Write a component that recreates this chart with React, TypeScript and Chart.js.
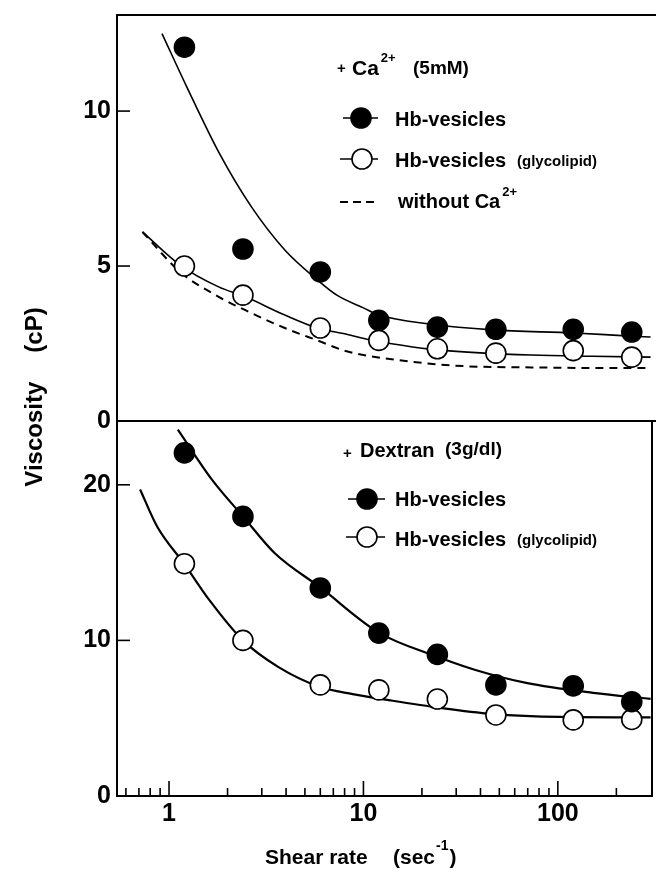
import React, { useEffect, useRef } from "react";
import { Chart, registerables } from "chart.js";

Chart.register(...registerables);

const FONT = '"Liberation Sans", Arial, Helvetica, sans-serif';

// measured shear rates (sec^-1)
const shearRate = [1.2, 2.4, 6, 12, 24, 48, 120, 240];

// + Ca2+ (5mM) panel
const caHbVesicles = [12.06, 5.55, 4.81, 3.25, 3.03, 2.96, 2.96, 2.87];
const caHbGlycolipid = [5.0, 4.06, 3.0, 2.6, 2.33, 2.19, 2.27, 2.06];
const caHbFitX = [0.92, 1.23, 1.81, 2.66, 3.94, 5.8, 7.3, 10, 12, 22, 46, 121, 236, 300];
const caHbFitY = [12.5, 10.8, 8.65, 6.9, 5.52, 4.55, 4.06, 3.65, 3.42, 3.13, 2.94, 2.84, 2.74, 2.71];
const caGlyFitX = [0.73, 1.14, 1.81, 2.42, 3.94, 5.8, 8.2, 10.7, 13.7, 22, 42, 73, 150, 300];
const caGlyFitY = [6.1, 5.03, 4.32, 4.03, 3.42, 3.0, 2.8, 2.62, 2.5, 2.32, 2.19, 2.13, 2.09, 2.06];
const noCaFitX = [0.73, 1.14, 1.81, 2.66, 3.94, 5.8, 8.2, 14.9, 33, 73, 150, 300];
const noCaFitY = [6.1, 4.81, 4.0, 3.48, 3.0, 2.6, 2.25, 1.97, 1.77, 1.73, 1.71, 1.71];

// + Dextran (3g/dl) panel
const dexHbVesicles = [22.05, 17.97, 13.37, 10.47, 9.1, 7.14, 7.08, 6.06];
const dexHbGlycolipid = [14.93, 10.0, 7.14, 6.82, 6.23, 5.21, 4.89, 4.92];
const dexHbFitX = [1.11, 1.67, 2.4, 3.5, 6, 12, 24, 37.7, 68.7, 152, 300];
const dexHbFitY = [23.55, 20.3, 17.97, 15.6, 13.4, 10.5, 8.95, 8.1, 7.27, 6.63, 6.24];
const dexGlyFitX = [0.71, 0.87, 1.2, 1.61, 2.4, 3.64, 6, 8.8, 13.7, 25, 45.7, 102, 300];
const dexGlyFitY = [19.7, 17.3, 14.9, 12.6, 10.0, 8.3, 7.0, 6.55, 6.15, 5.66, 5.28, 5.08, 5.05];

// axes
const xTickValues = [0.6, 0.7, 0.8, 0.9, 1, 2, 3, 4, 5, 6, 7, 8, 9, 10, 20, 30, 40, 50, 60, 70, 80, 90, 100, 200];
const xTickLabels = [1, 10, 100];
const yTopTicks = [0, 5, 10];
const yBotTicks = [0, 10, 20];
const X_MIN = 0.54;
const X_MAX = 305;
const Y_TOP_MAX = 13.1;
const Y_BOT_MAX = 24.1;

const pts = (xs: number[], ys: number[]) => xs.map((x, i) => ({ x, y: ys[i] }));

function bold(size: number) {
  return `bold ${size}px ${FONT}`;
}

const overlayPlugin = {
  id: "overlay",
  afterDraw(chart: any) {
    const ctx: CanvasRenderingContext2D = chart.ctx;
    const { left, right, top, bottom } = chart.chartArea;
    const xs = chart.scales.x;
    const yT = chart.scales.yTop;
    const yB = chart.scales.yBot;
    const W = chart.width;
    const line = (x1: number, y1: number, x2: number, y2: number) => {
      ctx.beginPath();
      ctx.moveTo(x1, y1);
      ctx.lineTo(x2, y2);
      ctx.stroke();
    };
    ctx.save();
    ctx.strokeStyle = "#000";
    ctx.fillStyle = "#000";
    ctx.lineCap = "butt";

    // frame
    ctx.lineWidth = 2;
    line(left - 1, top, W, top);
    line(left - 1, yT.bottom, W, yT.bottom);
    line(right, yB.top, right, bottom);

    // inward ticks on x axis
    ctx.lineWidth = 1.6;
    xTickValues.forEach((v) => {
      const px = xs.getPixelForValue(v);
      const len = xTickLabels.includes(v) ? 15 : 8;
      line(px, bottom, px, bottom - len);
    });
    // inward ticks on y axes
    yTopTicks.filter((v) => v > 0).forEach((v) => {
      const py = yT.getPixelForValue(v);
      line(left, py, left + 13, py);
    });
    yBotTicks.filter((v) => v > 0).forEach((v) => {
      const py = yB.getPixelForValue(v);
      line(left, py, left + 13, py);
    });

    ctx.textBaseline = "alphabetic";
    ctx.textAlign = "left";
    const txt = (s: string, x: number, y: number, size: number) => {
      ctx.font = bold(size);
      ctx.fillText(s, x, y);
      return x + ctx.measureText(s).width;
    };

    const marker = (cx: number, cy: number, filled: boolean, x1: number, x2: number) => {
      ctx.lineWidth = 1.6;
      line(x1, cy, x2, cy);
      ctx.beginPath();
      ctx.arc(cx, cy, 10, 0, Math.PI * 2);
      ctx.fillStyle = filled ? "#000" : "#fff";
      ctx.fill();
      ctx.lineWidth = 1.6;
      ctx.stroke();
      ctx.fillStyle = "#000";
    };

    // top panel annotations
    txt("+", 337, 73, 15);
    let e = txt("Ca", 352, 75, 21);
    txt("2+", e + 2, 62, 13);
    txt("(5mM)", 413, 74, 19);

    marker(361, 118, true, 343, 378);
    txt("Hb-vesicles", 395, 126, 20);
    marker(362, 159, false, 340, 378);
    txt("Hb-vesicles", 395, 167, 20);
    txt("(glycolipid)", 517, 166, 15);

    ctx.lineWidth = 2;
    ctx.setLineDash([8, 5]);
    line(340, 202, 376, 202);
    ctx.setLineDash([]);
    e = txt("without Ca", 398, 208, 20);
    txt("2+", e + 2, 196, 13);

    // bottom panel annotations
    txt("+", 343, 458, 15);
    txt("Dextran", 360, 457, 20);
    txt("(3g/dl)", 445, 455, 19);
    marker(367, 499, true, 348, 385);
    txt("Hb-vesicles", 395, 506, 20);
    marker(367, 537, false, 346, 385);
    txt("Hb-vesicles", 395, 546, 20);
    txt("(glycolipid)", 517, 545, 15);

    // x title
    txt("Shear rate", 265, 864, 21);
    e = txt("(sec", 393, 864, 21);
    e = txt("-1", e + 1, 850, 14);
    txt(")", e + 1, 864, 21);

    // y title
    ctx.save();
    ctx.translate(42, 397);
    ctx.rotate(-Math.PI / 2);
    ctx.font = bold(24);
    const a = "Viscosity";
    const b = "(cP)";
    const wa = ctx.measureText(a).width;
    const wb = ctx.measureText(b).width;
    const gap = 29;
    const total = wa + gap + wb;
    ctx.fillText(a, -total / 2, 0);
    ctx.fillText(b, -total / 2 + wa + gap, 0);
    ctx.restore();

    ctx.restore();
  },
};

export default function App() {
  const ref = useRef<HTMLCanvasElement | null>(null);

  useEffect(() => {
    const canvas = ref.current;
    if (!canvas) return;
    Chart.defaults.font.family = FONT;

    const marks = (data: number[], filled: boolean, yAxisID: string) => ({
      type: "scatter" as const,
      data: pts(shearRate, data),
      yAxisID,
      showLine: false,
      pointRadius: 10,
      pointHoverRadius: 10,
      pointBackgroundColor: filled ? "#000" : "#fff",
      pointBorderColor: "#000",
      pointBorderWidth: 1.6,
      order: 0,
    });
    const curve = (xs: number[], ys: number[], yAxisID: string, width: number, dash: number[] = []) => ({
      type: "line" as const,
      data: pts(xs, ys),
      yAxisID,
      showLine: true,
      pointRadius: 0,
      borderColor: "#000",
      borderWidth: width,
      borderDash: dash,
      fill: false,
      cubicInterpolationMode: "monotone" as const,
      order: 1,
    });

    const yScale = (ticks: number[], max: number, weight: number, stackWeight: number) => ({
      type: "linear" as const,
      position: "left" as const,
      stack: "v",
      stackWeight,
      weight,
      min: 0,
      max,
      afterBuildTicks: (s: any) => {
        s.ticks = ticks.map((v) => ({ value: v }));
      },
      afterFit: (s: any) => {
        s.width = 117;
        s.paddingTop = 0;
        s.paddingBottom = 0;
      },
      grid: { display: false, drawTicks: false },
      border: { display: true, color: "#000", width: 2 },
      ticks: {
        color: "#000",
        padding: 6,
        font: { family: FONT, size: 25, weight: "bold" as const },
        callback: (v: any) => String(v),
      },
    });

    const chart = new Chart(canvas, {
      type: "scatter",
      data: {
        datasets: [
          marks(caHbVesicles, true, "yTop"),
          marks(caHbGlycolipid, false, "yTop"),
          marks(dexHbVesicles, true, "yBot"),
          marks(dexHbGlycolipid, false, "yBot"),
          curve(caHbFitX, caHbFitY, "yTop", 1.6),
          curve(caGlyFitX, caGlyFitY, "yTop", 1.6),
          curve(noCaFitX, noCaFitY, "yTop", 2, [8, 6]),
          curve(dexHbFitX, dexHbFitY, "yBot", 2.2),
          curve(dexGlyFitX, dexGlyFitY, "yBot", 2.2),
        ] as any,
      },
      options: {
        responsive: false,
        animation: false,
        events: [],
        layout: { autoPadding: false, padding: { top: 15, right: 4, left: 0, bottom: 0 } },
        plugins: {
          legend: { display: false },
          tooltip: { enabled: false },
          title: { display: false },
        },
        scales: {
          x: {
            type: "logarithmic",
            position: "bottom",
            min: X_MIN,
            max: X_MAX,
            afterBuildTicks: (s: any) => {
              s.ticks = xTickValues.map((v) => ({ value: v }));
            },
            afterFit: (s: any) => {
              s.height = 81;
              s.paddingLeft = 0;
              s.paddingRight = 0;
            },
            grid: { display: false, drawTicks: false },
            border: { display: true, color: "#000", width: 2 },
            ticks: {
              autoSkip: false,
              maxRotation: 0,
              minRotation: 0,
              color: "#000",
              padding: 3,
              font: { family: FONT, size: 25, weight: "bold" },
              callback: (v: any) => (xTickLabels.includes(Number(v)) ? String(v) : ""),
            },
          },
          yBot: yScale(yBotTicks, Y_BOT_MAX, 1, 375),
          yTop: yScale(yTopTicks, Y_TOP_MAX, 2, 406),
        } as any,
      },
      plugins: [overlayPlugin],
    });
    return () => chart.destroy();
  }, []);

  return (
    <div style={{ position: "absolute", left: 0, top: 0, width: 656, height: 877, background: "#fff" }}>
      <canvas ref={ref} width={656} height={877} style={{ display: "block" }} />
    </div>
  );
}
